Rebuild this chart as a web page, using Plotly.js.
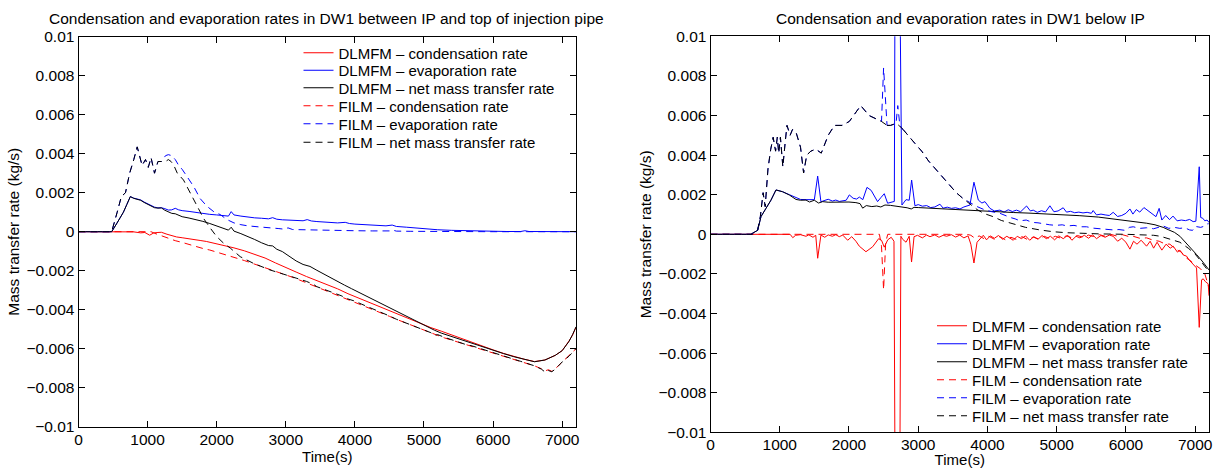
<!DOCTYPE html>
<html><head><meta charset="utf-8">
<script src="https://cdn.plot.ly/plotly-3.0.1.min.js"></script>
<style>html,body{margin:0;padding:0;background:#fff;}#chart{width:1219px;height:468px;}</style>
</head><body><div id="chart"></div>
<script>
// ---------- DATA (time s, rate kg/s) ----------
const xTickVals = [0,1000,2000,3000,4000,5000,6000,7000];
const xTickText = ['0','1000','2000','3000','4000','5000','6000','7000'];
const yTickVals = [0.01,0.008,0.006,0.004,0.002,0,-0.002,-0.004,-0.006,-0.008,-0.01];
const yTickText = ['0.01','0.008','0.006','0.004','0.002','0','\u22120.002','\u22120.004','\u22120.006','\u22120.008','\u22120.01'];
const seriesNames = ['DLMFM \u2013 condensation rate','DLMFM \u2013 evaporation rate','DLMFM \u2013 net mass transfer rate',
                     'FILM \u2013 condensation rate','FILM \u2013 evaporation rate','FILM \u2013 net mass transfer rate'];
const titleLeft = 'Condensation and evaporation rates in DW1 between IP and top of injection pipe';
const titleRight = 'Condensation and evaporation rates in DW1 below IP';

// Left panel
const L_dlmfm_cond = [[0,0],[480,0],[600,-0.00002],[700,-0.00003],[800,-0.00001],[900,-0.00006],[960,-0.00004],[1030,-0.00018],[1090,-0.00006],[1150,-0.00004],[1200,-0.00003],[1280,-0.00013],[1330,-0.00018],[1420,-0.00027],[1500,-0.00031],[1570,-0.00034],[1650,-0.00038],[1760,-0.00045],[1850,-0.0005],[1950,-0.00058],[2050,-0.00066],[2150,-0.00075],[2250,-0.00083],[2400,-0.00098],[2550,-0.00115],[2700,-0.00135],[2850,-0.0016],[3000,-0.00185],[3150,-0.00207],[3300,-0.0023],[3450,-0.0025],[3600,-0.00272],[3750,-0.00293],[3900,-0.00318],[4050,-0.0034],[4200,-0.0036],[4350,-0.00382],[4500,-0.00403],[4650,-0.00425],[4800,-0.00446],[4950,-0.00468],[5100,-0.00492],[5250,-0.0051],[5400,-0.0053],[5550,-0.0055],[5700,-0.00568],[5850,-0.00588],[6000,-0.00606],[6150,-0.00624],[6300,-0.0064],[6450,-0.00654],[6600,-0.00666],[6750,-0.00658],[6900,-0.00634],[7000,-0.0061],[7100,-0.0056],[7150,-0.0053],[7200,-0.0049]];
const L_dlmfm_evap = [[0,0],[480,0],[550,0.0004],[650,0.001],[700,0.0014],[750,0.0018],[800,0.00172],[850,0.00168],[900,0.00163],[950,0.00152],[1000,0.00142],[1050,0.00135],[1100,0.00126],[1150,0.00122],[1200,0.00123],[1250,0.00118],[1300,0.00111],[1350,0.00112],[1400,0.0012],[1450,0.00112],[1500,0.00108],[1600,0.00104],[1700,0.00098],[1800,0.00094],[1900,0.00089],[2000,0.00086],[2100,0.00082],[2170,0.0008],[2210,0.00103],[2250,0.00086],[2350,0.0008],[2450,0.00075],[2550,0.00071],[2650,0.00069],[2750,0.00066],[2810,0.00072],[2870,0.00064],[2950,0.00061],[3050,0.00059],[3150,0.00057],[3250,0.00056],[3310,0.00062],[3370,0.00055],[3450,0.00052],[3600,0.00049],[3750,0.00045],[3860,0.00048],[3920,0.00042],[4000,0.00039],[4150,0.00036],[4300,0.00033],[4450,0.0003],[4540,0.00034],[4600,0.00027],[4750,0.00023],[4900,0.00018],[5050,0.00013],[5200,0.0001],[5400,0.00007],[5600,0.00005],[5800,0.00003],[6000,0.00002],[6200,0.00001],[6400,0.00001],[6460,0.00005],[6520,0.00001],[6600,0.00001],[6800,0],[7000,0],[7200,0]];
const L_dlmfm_net = [[0,0],[480,0],[550,0.0004],[650,0.001],[700,0.0014],[750,0.0018],[800,0.00171],[850,0.00167],[900,0.00161],[950,0.0015],[1000,0.0014],[1050,0.00132],[1100,0.00123],[1150,0.00121],[1200,0.00122],[1250,0.0011],[1300,0.001],[1350,0.00094],[1400,0.00092],[1450,0.00084],[1500,0.00077],[1600,0.0007],[1700,0.00062],[1800,0.00053],[1900,0.00042],[2000,0.00028],[2100,0.00015],[2170,0.00008],[2210,0.00023],[2250,0.00003],[2350,-0.0001],[2450,-0.00024],[2550,-0.0004],[2650,-0.00057],[2750,-0.00071],[2810,-0.00073],[2870,-0.0009],[2950,-0.00102],[3050,-0.00128],[3150,-0.0015],[3250,-0.00168],[3350,-0.00178],[3450,-0.00198],[3550,-0.00218],[3650,-0.00235],[3750,-0.00255],[3850,-0.00274],[3950,-0.00292],[4050,-0.0031],[4150,-0.00328],[4250,-0.00346],[4350,-0.00364],[4450,-0.0038],[4550,-0.00398],[4650,-0.00416],[4750,-0.00434],[4850,-0.00452],[4950,-0.0047],[5050,-0.00488],[5150,-0.00505],[5250,-0.0052],[5400,-0.00538],[5550,-0.00556],[5700,-0.00574],[5850,-0.00592],[6000,-0.00608],[6150,-0.00625],[6300,-0.00641],[6450,-0.00655],[6600,-0.00667],[6750,-0.00658],[6900,-0.00634],[7000,-0.0061],[7100,-0.00562],[7150,-0.00528],[7200,-0.00488]];
const L_film_cond = [[0,0],[1050,0],[1100,-0.00008],[1200,-0.00022],[1300,-0.00033],[1400,-0.00046],[1500,-0.00055],[1600,-0.00066],[1700,-0.00076],[1800,-0.00086],[1900,-0.00094],[2000,-0.00104],[2100,-0.00114],[2200,-0.00126],[2300,-0.00137],[2400,-0.00148],[2500,-0.0016],[2600,-0.00171],[2700,-0.00183],[2800,-0.00196],[2900,-0.00208],[3000,-0.00221],[3100,-0.00234],[3200,-0.00248],[3300,-0.00262],[3400,-0.00276],[3500,-0.0029],[3600,-0.00304],[3700,-0.00318],[3800,-0.00333],[3900,-0.00346],[4000,-0.0036],[4100,-0.00374],[4200,-0.00389],[4300,-0.00405],[4400,-0.0042],[4500,-0.00434],[4600,-0.00449],[4700,-0.00463],[4800,-0.00478],[4900,-0.00494],[5000,-0.00507],[5100,-0.0052],[5200,-0.00532],[5300,-0.00545],[5400,-0.00556],[5500,-0.00567],[5600,-0.00578],[5700,-0.00588],[5800,-0.00598],[5900,-0.00609],[6000,-0.0062],[6100,-0.00631],[6200,-0.00643],[6300,-0.00655],[6400,-0.00665],[6500,-0.00676],[6600,-0.00688],[6700,-0.00703],[6750,-0.00714],[6800,-0.00708],[6850,-0.00716],[6900,-0.00703],[7000,-0.00668],[7100,-0.00638],[7200,-0.006]];
const L_film_evap = [[0,0],[480,0],[560,0.001],[620,0.0018],[680,0.002],[740,0.003],[800,0.0037],[850,0.00435],[920,0.0034],[970,0.0037],[1010,0.0033],[1050,0.0038],[1100,0.003],[1150,0.0036],[1200,0.0036],[1260,0.0039],[1300,0.00395],[1350,0.0039],[1400,0.0037],[1450,0.0034],[1500,0.0032],[1570,0.0028],[1670,0.0023],[1760,0.0017],[1860,0.0013],[1960,0.00102],[2050,0.00088],[2150,0.00062],[2250,0.00045],[2350,0.00036],[2450,0.0003],[2600,0.00025],[2750,0.00022],[2900,0.00016],[3000,0.00012],[3030,0.0002],[3100,0.00011],[3300,0.00009],[3500,0.00008],[3750,0.00006],[4000,0.00005],[4250,0.00004],[4500,0.00004],[4540,0.00009],[4600,0.00003],[4800,0.00002],[5000,0.00001],[5300,0.00001],[5600,0],[6000,0],[6500,0],[7200,0]];
const L_film_net = [[0,0],[480,0],[560,0.001],[620,0.0018],[680,0.002],[740,0.003],[800,0.0037],[850,0.00435],[920,0.0034],[970,0.0037],[1010,0.0033],[1050,0.0038],[1100,0.003],[1150,0.0036],[1200,0.0036],[1260,0.0036],[1300,0.0037],[1340,0.0036],[1380,0.0034],[1430,0.003],[1520,0.00265],[1620,0.00197],[1720,0.00128],[1810,0.00068],[1910,0.00017],[2000,-0.00025],[2100,-0.00059],[2200,-0.00085],[2340,-0.00128],[2530,-0.00162],[2770,-0.00196],[3010,-0.00225],[3150,-0.00238],[3300,-0.00255],[3400,-0.0027],[3450,-0.00282],[3600,-0.003],[3700,-0.00314],[3800,-0.00328],[3900,-0.00345],[4000,-0.00356],[4100,-0.00372],[4200,-0.00386],[4300,-0.00404],[4400,-0.00418],[4500,-0.00432],[4600,-0.00449],[4700,-0.00462],[4800,-0.00478],[4900,-0.00492],[5000,-0.00505],[5100,-0.00518],[5150,-0.00532],[5200,-0.00528],[5300,-0.00542],[5400,-0.00555],[5500,-0.00565],[5600,-0.00578],[5700,-0.00586],[5800,-0.00598],[5900,-0.00608],[6000,-0.0062],[6100,-0.0063],[6200,-0.00642],[6300,-0.00654],[6400,-0.00665],[6500,-0.00677],[6600,-0.00688],[6700,-0.00705],[6760,-0.00722],[6800,-0.00712],[6850,-0.00718],[6900,-0.00705],[7000,-0.00668],[7100,-0.00638],[7200,-0.006]];

// Right panel
const R_dlmfm_cond = [[0,0],[600,0],[1150,0],[1188,-0.00017],[1230,-0.00005],[1300,-0.00002],[1379,-0.0001],[1420,-0.00003],[1480,-0.00015],[1520,-0.00005],[1548,-0.00121],[1595,-0.00004],[1650,-0.00015],[1700,-0.00003],[1760,-0.0001],[1810,-0.00002],[1860,-0.00012],[1910,-0.00004],[1981,-0.0003],[2040,-0.00012],[2100,-0.00035],[2149,-0.0006],[2245,-0.00088],[2342,-0.00063],[2429,-0.00022],[2470,-0.0003],[2510,-0.00065],[2560,-0.00028],[2610,-0.00015],[2650,-0.00035],[2665,-0.012],[2735,-0.012],[2750,-0.0001],[2775,-0.00025],[2824,-0.0004],[2870,-0.0001],[2904,-0.0014],[2940,-0.00012],[2990,-0.00005],[3060,-0.00018],[3120,-0.00004],[3170,-0.00012],[3240,-0.00003],[3300,-0.00015],[3360,-0.00005],[3410,-0.0001],[3480,-0.00002],[3540,-0.00014],[3600,-0.00004],[3660,-0.00018],[3720,-0.00008],[3760,-0.0005],[3805,-0.00145],[3850,-0.0004],[3891,-0.00025],[3940,-0.00005],[3987,-0.00028],[4040,-0.00008],[4100,-0.0002],[4160,-0.00006],[4220,-0.00025],[4280,-0.0001],[4373,-0.0003],[4430,-0.0001],[4490,-0.00022],[4550,-0.00008],[4610,-0.0003],[4670,-0.00012],[4730,-0.00025],[4790,-0.00006],[4850,-0.00022],[4910,-0.0001],[4970,-0.00028],[5030,-0.00008],[5095,-0.00022],[5160,-0.00005],[5220,-0.0003],[5280,-0.0001],[5335,-0.00018],[5400,-0.00005],[5460,-0.0002],[5520,-0.00003],[5575,-0.00022],[5640,-0.00006],[5700,-0.00015],[5760,-0.00004],[5816,-0.0001],[5880,-0.00035],[5940,-0.0002],[6000,-0.0004],[6058,-0.00075],[6110,-0.00035],[6160,-0.0005],[6220,-0.0003],[6298,-0.0006],[6350,-0.00035],[6400,-0.0007],[6450,-0.0004],[6519,-0.0008],[6580,-0.0005],[6640,-0.0007],[6683,-0.0006],[6744,-0.0009],[6779,-0.0008],[6830,-0.00105],[6875,-0.0011],[6914,-0.0013],[6971,-0.0015],[7020,-0.0017],[7059,-0.0047],[7093,-0.0023],[7117,-0.00225],[7150,-0.0024],[7188,-0.0025],[7200,-0.0031]];
const R_dlmfm_evap = [[0,0],[580,0],[680,0.0002],[730,0.0009],[800,0.0013],[870,0.0017],[945,0.00224],[1040,0.00215],[1140,0.002],[1235,0.00185],[1300,0.00176],[1380,0.00175],[1440,0.00176],[1500,0.00175],[1548,0.00294],[1595,0.00164],[1640,0.0017],[1700,0.00177],[1760,0.00168],[1810,0.00173],[1860,0.00166],[1910,0.00168],[1960,0.00172],[2005,0.00199],[2060,0.00182],[2110,0.00178],[2150,0.00188],[2200,0.00175],[2260,0.00237],[2320,0.00222],[2370,0.00195],[2413,0.00165],[2460,0.00185],[2510,0.00205],[2558,0.00157],[2610,0.00162],[2655,0.00166],[2664,0.012],[2737,0.012],[2765,0.00148],[2824,0.00175],[2870,0.00172],[2905,0.00274],[2953,0.00144],[3000,0.0015],[3060,0.00142],[3122,0.00145],[3180,0.00135],[3240,0.00138],[3314,0.00152],[3360,0.00132],[3420,0.00137],[3480,0.00131],[3540,0.00134],[3603,0.00128],[3660,0.00138],[3747,0.00148],[3805,0.00263],[3868,0.00173],[3920,0.00158],[3964,0.00165],[4036,0.00131],[4100,0.00118],[4180,0.00122],[4240,0.00112],[4300,0.00124],[4360,0.00115],[4420,0.00122],[4480,0.00114],[4565,0.00143],[4620,0.00118],[4661,0.00122],[4720,0.00111],[4780,0.00119],[4840,0.00113],[4902,0.00144],[4960,0.00114],[5020,0.00118],[5094,0.00134],[5142,0.00112],[5200,0.00116],[5260,0.00109],[5320,0.00112],[5380,0.00108],[5440,0.00111],[5500,0.00106],[5527,0.0012],[5575,0.00098],[5640,0.00102],[5700,0.00098],[5760,0.00095],[5816,0.00111],[5880,0.0009],[5940,0.00095],[6000,0.00106],[6058,0.00128],[6101,0.00102],[6150,0.00125],[6200,0.00112],[6260,0.00135],[6321,0.00118],[6380,0.00105],[6434,0.00089],[6480,0.00131],[6519,0.00072],[6575,0.00095],[6630,0.00074],[6680,0.00092],[6740,0.00068],[6801,0.00072],[6860,0.00069],[6920,0.00075],[6971,0.00064],[7010,0.00066],[7059,0.00341],[7080,0.00085],[7110,0.00081],[7140,0.00068],[7172,0.00072],[7200,0.0006]];
const R_dlmfm_net = [[0,0],[580,0],[681,0.0002],[729,0.00089],[801,0.00131],[874,0.00173],[946,0.00224],[1042,0.00215],[1141,0.00198],[1235,0.00176],[1300,0.00172],[1379,0.00173],[1430,0.00163],[1500,0.00172],[1560,0.00158],[1620,0.00165],[1700,0.00162],[1800,0.00163],[1900,0.00164],[2000,0.00163],[2100,0.0016],[2160,0.00155],[2198,0.00132],[2250,0.00145],[2330,0.0014],[2400,0.00143],[2460,0.00138],[2520,0.00148],[2600,0.00146],[2700,0.00142],[2780,0.0014],[2840,0.00134],[2900,0.00128],[2940,0.00136],[3000,0.00135],[3200,0.00131],[3410,0.00127],[3600,0.00123],[3891,0.00118],[4100,0.00114],[4373,0.0011],[4600,0.00107],[4854,0.00103],[5100,0.00099],[5335,0.00094],[5600,0.00087],[5816,0.00078],[6000,0.0007],[6150,0.00063],[6298,0.00056],[6420,0.00048],[6538,0.00035],[6620,0.00022],[6700,0.0001],[6780,-0.0001],[6875,-0.00045],[6960,-0.0008],[7020,-0.00102],[7100,-0.00135],[7150,-0.00157],[7200,-0.0018]];
const R_film_cond = [[0,0],[2440,0],[2470,-0.0006],[2500,-0.0028],[2530,-0.0004],[2560,0],[3700,0],[3760,-0.00005],[3820,-0.0002],[3880,-0.00008],[3950,-0.00022],[4020,-0.0001],[4100,-0.00025],[4180,-0.00012],[4260,-0.00028],[4340,-0.00015],[4420,-0.00026],[4500,-0.00012],[4580,-0.00027],[4660,-0.00014],[4740,-0.00024],[4820,-0.0001],[4900,-0.00022],[4980,-0.0001],[5060,-0.0002],[5140,-0.00008],[5220,-0.00018],[5300,-0.00006],[5380,-0.00015],[5460,-0.00004],[5540,-0.00012],[5620,-0.00002],[5700,-0.0001],[5780,0],[5860,-0.00008],[5950,-0.00002],[6050,-0.00012],[6105,-0.0001],[6200,-0.0002],[6300,-0.00018],[6394,-0.0003],[6480,-0.00035],[6560,-0.00048],[6635,-0.0005],[6720,-0.00075],[6800,-0.0009],[6875,-0.0012],[6950,-0.00138],[7020,-0.0016],[7080,-0.00175],[7140,-0.002],[7188,-0.0025],[7200,-0.0027]];
// (a null value marks a break in the sampled record; the next sample restarts the line)
const R_film_evap = [[0,0],[600,0],[680,0.0002],[720,0.0009],[760,0.0021],[790,0.0014],[830,0.0033],[870,0.0043],[905,0.0049],[940,0.0042],[965,0.0049],[985,0.0041],[1010,0.0049],[1045,0.0034],[1080,0.0047],[1105,0.0055],[1150,0.005],[1185,0.0053],[1240,0.0051],[1300,0.0044],[1345,0.0031],[1390,0.004],[1450,0.0042],[1520,0.0043],[1600,0.0041],[1700,0.005],[1790,0.0055],[1900,0.0055],[2005,0.0057],[2100,0.0062],[2170,0.0065],[2290,0.006],[2410,0.0058],[2470,0.0057],[2500,0.0084],[2550,0.0055],[2550,null],[2550,0.0055],[2600,0.0055],[2680,0.0056],[2705,0.0065],[2735,0.0055],[2780,0.0053],[2780,null],[2780,0.0053],[2870,0.0049],[2950,0.0046],[3050,0.0042],[3150,0.0037],[3250,0.0033],[3350,0.0029],[3450,0.0025],[3550,0.0021],[3650,0.0018],[3750,0.0016],[3850,0.0014],[3950,0.00125],[4050,0.00115],[4180,0.00106],[4250,0.00095],[4330,0.00085],[4400,0.00078],[4470,0.00068],[4560,0.00072],[4650,0.0006],[4730,0.00058],[4806,0.00052],[4900,0.00048],[4990,0.00045],[5080,0.00048],[5150,0.00042],[5250,0.00045],[5350,0.00038],[5431,0.00038],[5528,0.00031],[5620,0.00028],[5720,0.00025],[5820,0.00022],[5900,0.00024],[5984,0.0002],[6050,0.00035],[6105,0.00038],[6200,0.0003],[6300,0.00033],[6400,0.00028],[6480,0.00038],[6538,0.00042],[6620,0.0003],[6700,0.00035],[6779,0.0003],[6850,0.00033],[6920,0.00022],[6963,0.0002],[7000,0.0004],[7080,0.00035],[7140,0.00042],[7188,0.00055],[7200,0.0005]];
const R_film_net = [[0,0],[600,0],[680,0.0002],[720,0.0009],[760,0.0021],[790,0.0014],[830,0.0033],[870,0.0043],[905,0.0049],[940,0.0042],[965,0.0049],[985,0.0041],[1010,0.0049],[1045,0.0034],[1080,0.0047],[1105,0.0055],[1150,0.005],[1185,0.0053],[1240,0.0051],[1300,0.0044],[1345,0.0031],[1390,0.004],[1450,0.0042],[1520,0.0043],[1600,0.0041],[1700,0.005],[1790,0.0055],[1900,0.0055],[2005,0.0057],[2100,0.0062],[2170,0.0065],[2290,0.006],[2410,0.0058],[2470,0.0057],[2550,0.0055],[2550,null],[2550,0.0055],[2600,0.0055],[2680,0.0056],[2720,0.0055],[2780,0.0053],[2780,null],[2780,0.0053],[2870,0.0049],[2950,0.0046],[3050,0.0042],[3150,0.0037],[3250,0.0033],[3350,0.0029],[3450,0.0025],[3550,0.0021],[3650,0.0018],[3750,0.0015],[3850,0.00125],[3950,0.00105],[4084,0.00089],[4200,0.0007],[4300,0.0006],[4420,0.00047],[4550,0.00035],[4757,0.00022],[4950,0.00013],[5142,0.00008],[5400,0.00004],[5623,0.00002],[6000,0],[6200,-0.00002],[6400,-0.00005],[6500,-0.0001],[6600,-0.0002],[6700,-0.0003],[6779,-0.0004],[6900,-0.0007],[7000,-0.001],[7068,-0.00129],[7140,-0.0016],[7200,-0.0019]];

// ---------- CHART ----------
const W = 1219, H = 468;
const FONT = 'Liberation Sans, Arial, Helvetica, sans-serif';
const FS = 15.5;      // titles and tick labels
const LFS = 15;       // legend text and x-axis titles
const colors = ['#ff0000','#0000ff','#000000','#ff0000','#0000ff','#000000'];
const dashes = ['solid','solid','solid','7px,5px','7px,5px','7px,5px'];
const leftSeries = [L_dlmfm_cond, L_dlmfm_evap, L_dlmfm_net, L_film_cond, L_film_evap, L_film_net];
const rightSeries = [R_dlmfm_cond, R_dlmfm_evap, R_dlmfm_net, R_film_cond, R_film_evap, R_film_net];

const traces = [];
function addPanel(series, xa, ya, legendOffset) {
  series.forEach((s, i) => {
    const n = i + legendOffset;
    traces.push({
      type: 'scatter', mode: 'lines', name: seriesNames[i],
      x: s.map(p => p[0]), y: s.map(p => p[1]),
      xaxis: xa, yaxis: ya, legend: 'legend' + (n === 0 ? '' : (n + 1)),
      connectgaps: false,
      line: {color: colors[i], width: 1, dash: dashes[i]},
      hoverinfo: 'skip'
    });
  });
}
addPanel(leftSeries, 'x', 'y', 0);
addPanel(rightSeries, 'x2', 'y2', 6);

function xAxis(d0, d1, anchor, lblOff, titleOff) {
  return {domain: [d0 / W, d1 / W], range: [0, 7200], anchor: anchor,
    tickvals: xTickVals, ticktext: xTickText, ticks: 'inside', ticklen: 6, tickcolor: '#000',
    mirror: 'ticks', showline: true, linecolor: '#000', linewidth: 1,
    showgrid: false, zeroline: false, tickfont: {family: FONT, size: FS, color: '#000'},
    ticklabelstandoff: lblOff,
    title: {text: 'Time(s)', font: {family: FONT, size: LFS, color: '#000'}, standoff: titleOff}};
}
function yAxis(top, bottom, anchor) {
  return {domain: [1 - bottom / H, 1 - top / H], range: [-0.01, 0.01], anchor: anchor,
    tickvals: yTickVals, ticktext: yTickText, ticks: 'inside', ticklen: 6, tickcolor: '#000',
    mirror: 'ticks', showline: true, linecolor: '#000', linewidth: 1,
    showgrid: false, zeroline: false, tickfont: {family: FONT, size: FS, color: '#000'},
    title: {text: 'Mass transfer rate (kg/s)', font: {family: FONT, size: FS, color: '#000'}, standoff: 3}};
}

const layout = {
  width: W, height: H, margin: {l: 0, r: 0, t: 0, b: 0},
  paper_bgcolor: '#fff', plot_bgcolor: '#fff', showlegend: true,
  font: {family: FONT, size: FS, color: '#000'},
  xaxis: xAxis(78.5, 576, 'y', -1, 3), yaxis: yAxis(36.7, 426.7, 'x'),
  xaxis2: xAxis(710.5, 1209, 'y2', -2, 5), yaxis2: yAxis(36.3, 432.3, 'x2'),
  annotations: [
    {text: titleLeft, xref: 'paper', yref: 'paper', x: 327 / W, y: 1 - 19 / H, xanchor: 'center', yanchor: 'middle', showarrow: false, font: {family: FONT, size: FS, color: '#000'}},
    {text: titleRight, xref: 'paper', yref: 'paper', x: 960 / W, y: 1 - 19 / H, xanchor: 'center', yanchor: 'middle', showarrow: false, font: {family: FONT, size: FS, color: '#000'}}
  ]
};
const leftRows = [53, 70.5, 88, 106, 124, 142.5];
const rightRows = [326, 344, 362, 380, 398, 416];
function addLegend(idx, xLine, row) {
  const key = 'legend' + (idx === 0 ? '' : (idx + 1));
  layout[key] = {x: (xLine - 5) / W, xanchor: 'left', y: 1 - row / H, yanchor: 'middle',
    bgcolor: 'rgba(0,0,0,0)', borderwidth: 0, itemwidth: 30,
    font: {family: FONT, size: LFS, color: '#000'}};
}
leftRows.forEach((r, i) => addLegend(i, 303.5, r));
rightRows.forEach((r, i) => addLegend(i + 6, 937, r));

Plotly.newPlot('chart', traces, layout, {displayModeBar: false, staticPlot: true});
</script></body></html>
